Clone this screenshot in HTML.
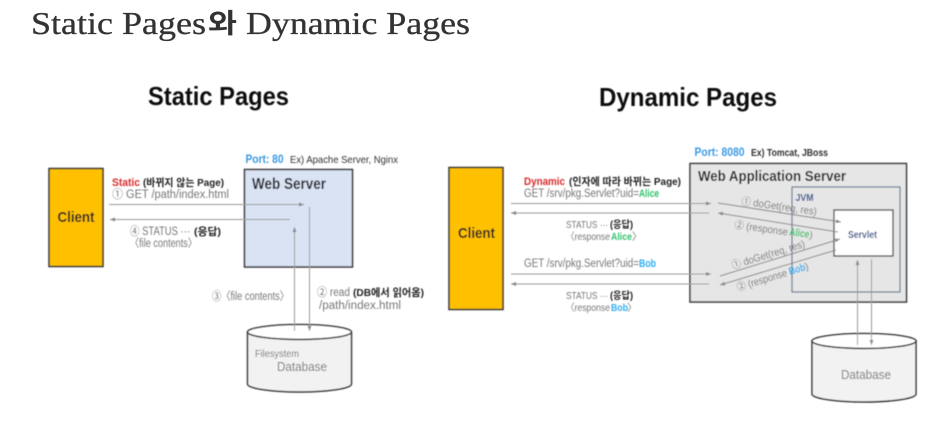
<!DOCTYPE html>
<html lang="ko"><head><meta charset="utf-8"><title>Static Pages와 Dynamic Pages</title>
<style>
html,body{margin:0;padding:0;background:#fff;width:950px;height:421px;overflow:hidden}
svg{display:block}
text{font-family:"Liberation Sans","Noto Sans CJK KR",sans-serif}
.g{fill:#777}.k{fill:#222}.b{font-weight:700}
.t{font-family:"Liberation Serif","Noto Sans CJK KR",serif;fill:#333;stroke:#333;stroke-width:.3}
</style></head><body>
<svg width="950" height="421" viewBox="0 0 950 421" xmlns="http://www.w3.org/2000/svg">
<defs>
<marker id="a" markerWidth="6" markerHeight="6" refX="5" refY="2.5" orient="auto" markerUnits="userSpaceOnUse"><path d="M0 .5L5 2.5L0 4.500z" fill="#888"/></marker>
<filter id="s" x="-5%" y="-5%" width="110%" height="110%"><feGaussianBlur stdDeviation="0.4"/></filter>
</defs>
<text x="31" y="34" font-size="32" class="t" textLength="175" lengthAdjust="spacingAndGlyphs">Static Pages</text>
<text x="208" y="33" font-size="27" font-weight="700" fill="#333" textLength="29" lengthAdjust="spacingAndGlyphs">와</text>
<text x="246" y="34" font-size="32" class="t" textLength="224" lengthAdjust="spacingAndGlyphs">Dynamic Pages</text>
<g filter="url(#s)">
<text x="148" y="105" font-size="26" class="b" fill="#111" textLength="141" lengthAdjust="spacingAndGlyphs">Static Pages</text>
<text x="599" y="106" font-size="26" class="b" fill="#111" textLength="178" lengthAdjust="spacingAndGlyphs">Dynamic Pages</text>

<!-- Static -->
<rect x="49" y="168.500" width="54" height="98" fill="#ffc000" stroke="#333" stroke-width="1.500"/>
<text x="57.500" y="222" font-size="15" class="b" fill="#222" textLength="37" lengthAdjust="spacingAndGlyphs">Client</text>
<text x="245.500" y="163" font-size="12" class="b" fill="#3b9ae1" textLength="38" lengthAdjust="spacingAndGlyphs">Port: 80</text>
<text x="290" y="163" font-size="10.500" fill="#333" textLength="108" lengthAdjust="spacingAndGlyphs">Ex) Apache Server, Nginx</text>
<rect x="244.500" y="169.500" width="108" height="97.500" fill="#d9e3f4" stroke="#333" stroke-width="1.500"/>
<text x="252" y="189" font-size="15.500" class="b" fill="#222" textLength="74" lengthAdjust="spacingAndGlyphs">Web Server</text>
<text x="112" y="186" font-size="11" class="b" fill="#d92b2b" textLength="28" lengthAdjust="spacingAndGlyphs">Static</text>
<text x="143" y="186" font-size="10.500" class="b k" textLength="81" lengthAdjust="spacingAndGlyphs">(바뀌지 않는 Page)</text>
<text x="112" y="198" font-size="11.500" class="g" textLength="117" lengthAdjust="spacingAndGlyphs">① GET /path/index.html</text>
<line x1="109" y1="204.500" x2="304" y2="204.500" stroke="#999" marker-end="url(#a)"/>
<line x1="290" y1="219.500" x2="110" y2="219.500" stroke="#999" marker-end="url(#a)"/>
<text x="130" y="235" font-size="11.500" class="g" textLength="60" lengthAdjust="spacingAndGlyphs">④ STATUS ···</text>
<text x="194" y="235" font-size="10.500" class="b k" textLength="27" lengthAdjust="spacingAndGlyphs">(응답)</text>
<text x="130" y="247" font-size="11.500" class="g" textLength="67" lengthAdjust="spacingAndGlyphs">〈file contents〉</text>
<text x="212" y="300" font-size="11.500" class="g" textLength="77" lengthAdjust="spacingAndGlyphs">③〈file contents〉</text>
<text x="317" y="296" font-size="11.500" class="g" textLength="33" lengthAdjust="spacingAndGlyphs">② read</text>
<text x="353" y="296" font-size="10.500" class="b k" textLength="71" lengthAdjust="spacingAndGlyphs">(DB에서 읽어옴)</text>
<text x="319" y="309" font-size="11.500" class="g" textLength="82" lengthAdjust="spacingAndGlyphs">/path/index.html</text>
<path d="M247.500 332V384A52 8 0 0 0 351.500 384V332" fill="#f2f2f2" stroke="#333" stroke-width="1.500"/>
<ellipse cx="299.500" cy="332" rx="52" ry="7.500" fill="#fff" stroke="#333" stroke-width="1.500"/>
<line x1="294.500" y1="331" x2="294.500" y2="227" stroke="#999" marker-end="url(#a)"/>
<line x1="309.500" y1="207" x2="309.500" y2="331" stroke="#999" marker-end="url(#a)"/>
<text x="255" y="357" font-size="10.500" class="g" textLength="44" lengthAdjust="spacingAndGlyphs">Filesystem</text>
<text x="277" y="371" font-size="12.500" class="g" textLength="50" lengthAdjust="spacingAndGlyphs">Database</text>

<!-- Dynamic -->
<rect x="449" y="167.500" width="54" height="142" fill="#ffc000" stroke="#333" stroke-width="1.500"/>
<text x="458" y="238" font-size="15" class="b" fill="#222" textLength="37" lengthAdjust="spacingAndGlyphs">Client</text>
<text x="524" y="185" font-size="11" class="b" fill="#d92b2b" textLength="41" lengthAdjust="spacingAndGlyphs">Dynamic</text>
<text x="569" y="185" font-size="10.500" class="b k" textLength="112" lengthAdjust="spacingAndGlyphs">(인자에 따라 바뀌는 Page)</text>
<text x="524" y="197" font-size="11.500" class="g" textLength="115" lengthAdjust="spacingAndGlyphs">GET /srv/pkg.Servlet?uid=</text>
<text x="639" y="197" font-size="11" class="b" fill="#2fc26b" textLength="20" lengthAdjust="spacingAndGlyphs">Alice</text>
<text x="566" y="228" font-size="10.500" class="g" textLength="42" lengthAdjust="spacingAndGlyphs">STATUS ···</text>
<text x="610" y="228" font-size="10" class="b k" textLength="23" lengthAdjust="spacingAndGlyphs">(응답)</text>
<text x="566" y="240" font-size="10.500" class="g" textLength="44" lengthAdjust="spacingAndGlyphs">〈response</text>
<text x="611" y="240" font-size="10.500" class="b" fill="#2fc26b" textLength="21" lengthAdjust="spacingAndGlyphs">Alice</text>
<text x="632" y="240" font-size="10" class="g">〉</text>
<text x="524" y="267" font-size="11.500" class="g" textLength="115" lengthAdjust="spacingAndGlyphs">GET /srv/pkg.Servlet?uid=</text>
<text x="639" y="267" font-size="11" class="b" fill="#31aef0" textLength="17" lengthAdjust="spacingAndGlyphs">Bob</text>
<text x="566" y="299" font-size="10.500" class="g" textLength="42" lengthAdjust="spacingAndGlyphs">STATUS ···</text>
<text x="610" y="299" font-size="10" class="b k" textLength="23" lengthAdjust="spacingAndGlyphs">(응답)</text>
<text x="566" y="311" font-size="10.500" class="g" textLength="44" lengthAdjust="spacingAndGlyphs">〈response</text>
<text x="611" y="311" font-size="10.500" class="b" fill="#31aef0" textLength="17" lengthAdjust="spacingAndGlyphs">Bob</text>
<text x="627" y="311" font-size="10" class="g">〉</text>

<text x="694.500" y="156" font-size="12" class="b" fill="#3b9ae1" textLength="50" lengthAdjust="spacingAndGlyphs">Port: 8080</text>
<text x="751" y="156" font-size="10.500" class="b" fill="#333" textLength="77" lengthAdjust="spacingAndGlyphs">Ex) Tomcat, JBoss</text>
<rect x="690" y="163.500" width="216.500" height="138.500" fill="#e6e6e6" stroke="#333" stroke-width="1.500"/>
<text x="698" y="181" font-size="15" class="b" fill="#222" textLength="148" lengthAdjust="spacingAndGlyphs">Web Application Server</text>
<rect x="792" y="187" width="108" height="105" fill="#e6e6e6" stroke="#68788f" stroke-width="1.200"/>
<text x="795.500" y="201" font-size="10" class="b" fill="#34508a" textLength="18" lengthAdjust="spacingAndGlyphs">JVM</text>
<rect x="834" y="210" width="59" height="46" fill="#fff" stroke="#444" stroke-width="1.300"/>
<text x="848" y="238" font-size="10.500" class="b" fill="#34508a" textLength="29" lengthAdjust="spacingAndGlyphs">Servlet</text>

<line x1="511" y1="203.500" x2="711" y2="203.500" stroke="#999" marker-end="url(#a)"/>
<line x1="709" y1="213" x2="511" y2="213" stroke="#999" marker-end="url(#a)"/>
<line x1="511" y1="274" x2="711" y2="274" stroke="#999" marker-end="url(#a)"/>
<line x1="709" y1="284" x2="511" y2="284" stroke="#999" marker-end="url(#a)"/>
<line x1="718" y1="203" x2="841" y2="222" stroke="#888" marker-end="url(#a)"/>
<line x1="838" y1="232" x2="718" y2="213" stroke="#888" marker-end="url(#a)"/>
<line x1="720" y1="276" x2="840" y2="239" stroke="#888" marker-end="url(#a)"/>
<line x1="836" y1="250" x2="720" y2="285" stroke="#888" marker-end="url(#a)"/>
<text transform="translate(741 204.500) rotate(8)" font-size="10.500" class="g" textLength="76" lengthAdjust="spacingAndGlyphs">① doGet(req, res)</text>
<text transform="translate(734 228) rotate(8)" font-size="10.500" class="g" textLength="54" lengthAdjust="spacingAndGlyphs">② (response</text>
<text transform="translate(789 235) rotate(8)" font-size="10.500" class="b" fill="#2fc26b" textLength="20" lengthAdjust="spacingAndGlyphs">Alice</text>
<text transform="translate(809 238) rotate(8)" font-size="10" class="g">)</text>
<text transform="translate(733 269) rotate(-17)" font-size="10.500" class="g" textLength="76" lengthAdjust="spacingAndGlyphs">① doGet(req, res)</text>
<text transform="translate(738 291) rotate(-17)" font-size="10.500" class="g" textLength="52" lengthAdjust="spacingAndGlyphs">② (response</text>
<text transform="translate(790 275) rotate(-17)" font-size="10.500" class="b" fill="#31aef0" textLength="17" lengthAdjust="spacingAndGlyphs">Bob</text>
<text transform="translate(806 270) rotate(-17)" font-size="10" class="g">)</text>

<path d="M812 340V394A52 8 0 0 0 916 394V340" fill="#f2f2f2" stroke="#333" stroke-width="1.500"/>
<ellipse cx="864" cy="341" rx="52" ry="7.500" fill="#fff" stroke="#333" stroke-width="1.500"/>
<line x1="857.500" y1="345" x2="857.500" y2="260" stroke="#999" marker-end="url(#a)"/>
<line x1="871.500" y1="259" x2="871.500" y2="345" stroke="#999" marker-end="url(#a)"/>
<text x="841" y="379" font-size="12.500" class="g" textLength="50" lengthAdjust="spacingAndGlyphs">Database</text>
</g>
</svg>
</body></html>
